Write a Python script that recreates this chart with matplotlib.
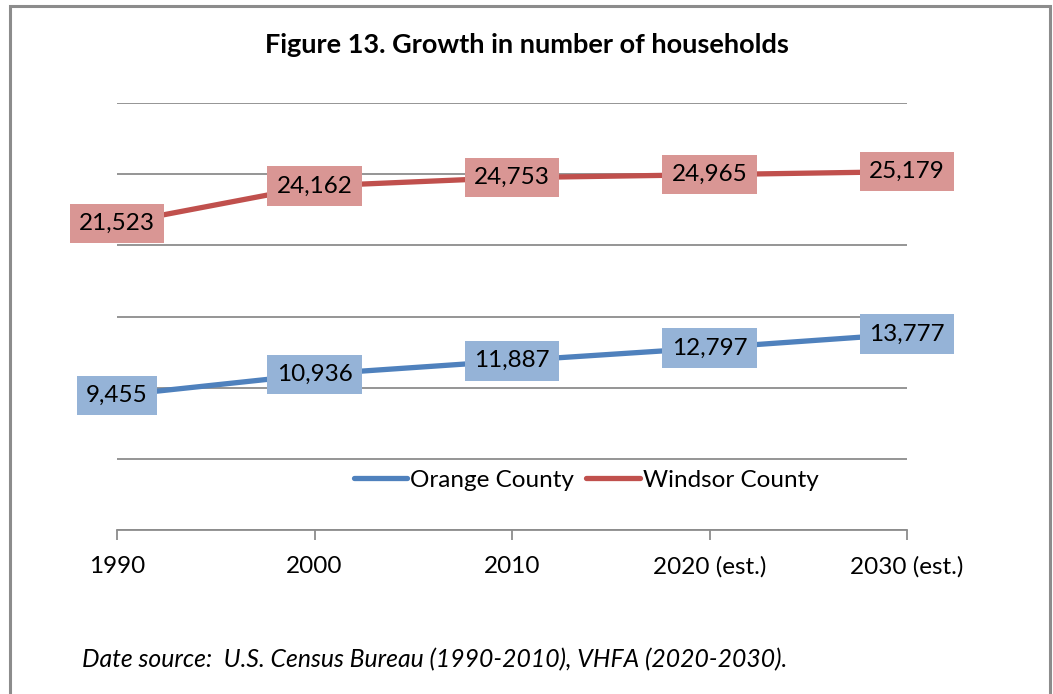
import matplotlib
matplotlib.use("Agg")
import matplotlib.pyplot as plt
from matplotlib.patches import Rectangle

categories = ["1990", "2000", "2010", "2020 (est.)", "2030 (est.)"]
orange = [9455, 10936, 11887, 12797, 13777]
windsor = [21523, 24162, 24753, 24965, 25179]

W, H = 1053, 694
plt.rcParams['font.family'] = ['Lato', 'DejaVu Sans']
fig = plt.figure(figsize=(W/100, H/100), dpi=100)

# outer border
fig.patches.append(Rectangle((10/W, -0.01), (1050-10)/W, (H-6)/H + 0.01,
                             transform=fig.transFigure, fill=False,
                             edgecolor='#8c8c8c', linewidth=2.2))

ax = fig.add_axes([117/W, (H-530)/H, (907-117)/W, (530-103)/H])
x = list(range(len(categories)))
blue, red = '#4F81BD', '#C0504D'
blue_fill, red_fill = '#95B3D7', '#D99694'

ax.plot(x, orange, color=blue, lw=3.8, solid_capstyle='round', label='Orange County', zorder=3)
ax.plot(x, windsor, color=red, lw=3.8, solid_capstyle='round', label='Windsor County', zorder=3)

for xi, v in zip(x, orange):
    ax.text(xi, v, f"{v:,}", ha='center', va='center', fontsize=17.5, zorder=5,
            bbox=dict(boxstyle='square,pad=0.38', fc=blue_fill, ec='none'), clip_on=False)
for xi, v in zip(x, windsor):
    ax.text(xi, v, f"{v:,}", ha='center', va='center', fontsize=17.5, zorder=5,
            bbox=dict(boxstyle='square,pad=0.38', fc=red_fill, ec='none'), clip_on=False)

ax.set_xlim(0, len(categories) - 1)
ax.set_ylim(0, 30000)
ax.set_yticks(range(0, 30001, 5000))
ax.yaxis.grid(True, color='#8c8c8c', lw=1.3)
ax.set_axisbelow(True)
ax.tick_params(axis='y', left=False, labelleft=False)
ax.set_xticks(x)
ax.set_xticklabels(categories, fontsize=17.5)
ax.tick_params(axis='x', length=7, width=1.3, color='#8c8c8c', pad=12)
for s in ['top', 'left', 'right']:
    ax.spines[s].set_visible(False)
ax.spines['bottom'].set_color('#8c8c8c')
ax.spines['bottom'].set_linewidth(1.3)

leg = fig.legend(loc='center', bbox_to_anchor=(586/W, (H-480)/H), ncol=2, frameon=False,
                 fontsize=17.5, handlelength=2.2, handletextpad=0.12, columnspacing=0.5)

fig.text(527/W, (H-45)/H, "Figure 13. Growth in number of households", ha='center', va='center',
         fontsize=19.5, fontweight='bold')
fig.text(82/W, (H-660)/H, "Date source:  U.S. Census Bureau (1990-2010), VHFA (2020-2030).",
         ha='left', va='center', fontsize=17.8, fontstyle='italic')

fig.savefig("out.png", dpi=100)
